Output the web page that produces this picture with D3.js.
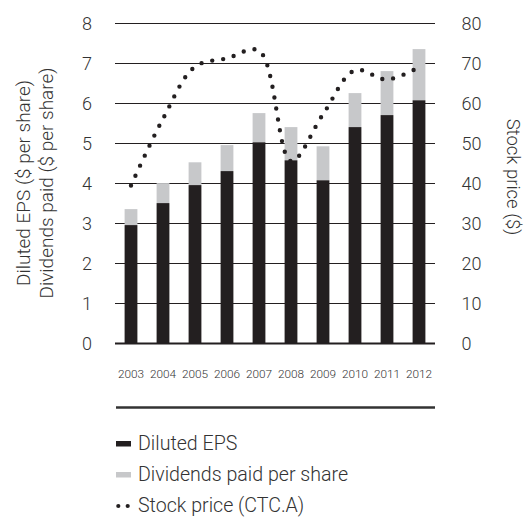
<!DOCTYPE html>
<html>
<head>
<meta charset="utf-8">
<script src="https://cdn.jsdelivr.net/npm/d3@7"></script>
<style>
  html, body { margin: 0; padding: 0; background: #fff; }
  svg text { font-family: "Roboto", "Liberation Sans", sans-serif; font-weight: 300; fill: #333; }
</style>
</head>
<body>
<svg id="chart" width="524" height="517"></svg>
<script>
// Canadian Tire per-share figures, 2003–2012
const years = ["2003","2004","2005","2006","2007","2008","2009","2010","2011","2012"];
const dilutedEPS = [2.96, 3.51, 3.96, 4.31, 5.03, 4.58, 4.08, 5.41, 5.71, 6.08];
const dividends  = [0.40, 0.50, 0.57, 0.65, 0.73, 0.83, 0.85, 0.85, 1.10, 1.28];
const stockPrice = [39.5, 56.2, 69.2, 71.3, 73.2, 45.6, 57.3, 68.3, 66.0, 69.1];
const leftTicks  = [0, 1, 2, 3, 4, 5, 6, 7, 8];
const rightTicks = [0, 10, 20, 30, 40, 50, 60, 70, 80];
const legendItems = ["Diluted EPS", "Dividends paid per share", "Stock price (CTC.A)"];

const INK = "#231f20", GREY = "#c7c8ca";
const svg = d3.select("#chart");

const x = d3.scaleBand().domain(years).range([115, 435]).paddingInner(0.6).paddingOuter(0.3);
const y = d3.scaleLinear().domain([0, 8]).range([343.5, 23.5]);
const y2 = d3.scaleLinear().domain([0, 80]).range([343.5, 23.5]);

// horizontal gridlines
svg.append("g").selectAll("line").data(leftTicks.filter(d => d > 0)).join("line")
  .attr("x1", 115).attr("x2", 435)
  .attr("y1", d => y(d)).attr("y2", d => y(d))
  .attr("stroke", INK).attr("stroke-width", 1);

// stacked bars: EPS at the bottom, dividends on top
const rows = years.map((yr, i) => ({ yr, eps: dilutedEPS[i], div: dividends[i] }));
svg.append("g").selectAll("rect").data(rows).join("rect")
  .attr("x", d => x(d.yr)).attr("width", x.bandwidth())
  .attr("y", d => y(d.eps + d.div)).attr("height", d => y(d.eps) - y(d.eps + d.div))
  .attr("fill", GREY);
svg.append("g").selectAll("rect").data(rows).join("rect")
  .attr("x", d => x(d.yr)).attr("width", x.bandwidth())
  .attr("y", d => y(d.eps)).attr("height", d => y(0) - y(d.eps))
  .attr("fill", INK);

// baseline
svg.append("line").attr("x1", 115).attr("x2", 435)
  .attr("y1", y(0)).attr("y2", y(0))
  .attr("stroke", INK).attr("stroke-width", 2);

// stock price as a dotted curve
const line = d3.line()
  .x((d, i) => x(years[i]) + x.bandwidth() / 2)
  .y(d => y2(d))
  .curve(d3.curveCatmullRom.alpha(0.5));
svg.append("path").datum(stockPrice)
  .attr("d", line)
  .attr("fill", "none").attr("stroke", INK)
  .attr("stroke-width", 4.4).attr("stroke-linecap", "round")
  .attr("stroke-dasharray", "0 11");

// left axis labels
svg.append("g").selectAll("text").data(leftTicks).join("text")
  .attr("x", 92).attr("y", d => y(d)).attr("dy", "0.36em")
  .attr("text-anchor", "end").attr("font-size", 18)
  .text(d => d);

// right axis labels
svg.append("g").selectAll("text").data(rightTicks).join("text")
  .attr("x", 461.5).attr("y", d => y2(d)).attr("dy", "0.36em")
  .attr("text-anchor", "start").attr("font-size", 18)
  .text(d => d);

// year labels
svg.append("g").selectAll("text").data(years).join("text")
  .attr("x", d => x(d) + x.bandwidth() / 2).attr("y", 378)
  .attr("text-anchor", "middle").attr("font-size", 11.8)
  .attr("fill", "#444")
  .text(d => d);

// axis titles (two stacked lines on the left, one on the right)
svg.append("text")
  .attr("transform", "translate(30,183) rotate(-90)")
  .attr("text-anchor", "middle").attr("font-size", 19)
  .text("Diluted EPS ($ per share)");
svg.append("text")
  .attr("transform", "translate(53,183) rotate(-90)")
  .attr("text-anchor", "middle").attr("font-size", 19)
  .text("Dividends paid ($ per share)");

svg.append("text")
  .attr("transform", "translate(507,177) rotate(90)")
  .attr("text-anchor", "middle").attr("font-size", 18.5)
  .text("Stock price ($)");

// divider above legend
svg.append("line").attr("x1", 116).attr("x2", 435)
  .attr("y1", 407.5).attr("y2", 407.5)
  .attr("stroke", "#333").attr("stroke-width", 2.4);

// legend
const legend = svg.append("g");
const rowY = [450, 481, 511.5];
legend.append("rect").attr("x", 116).attr("y", 441).attr("width", 15).attr("height", 5.5).attr("fill", INK);
legend.append("rect").attr("x", 116).attr("y", 472).attr("width", 15).attr("height", 5.5).attr("fill", GREY);
legend.selectAll("circle").data([118.3, 127.7]).join("circle")
  .attr("cx", d => d).attr("cy", 506).attr("r", 2.1).attr("fill", INK);
legend.selectAll("text").data(legendItems).join("text")
  .attr("x", 138).attr("y", (d, i) => rowY[i])
  .attr("font-size", 19.6)
  .text(d => d);
</script>
</body>
</html>
